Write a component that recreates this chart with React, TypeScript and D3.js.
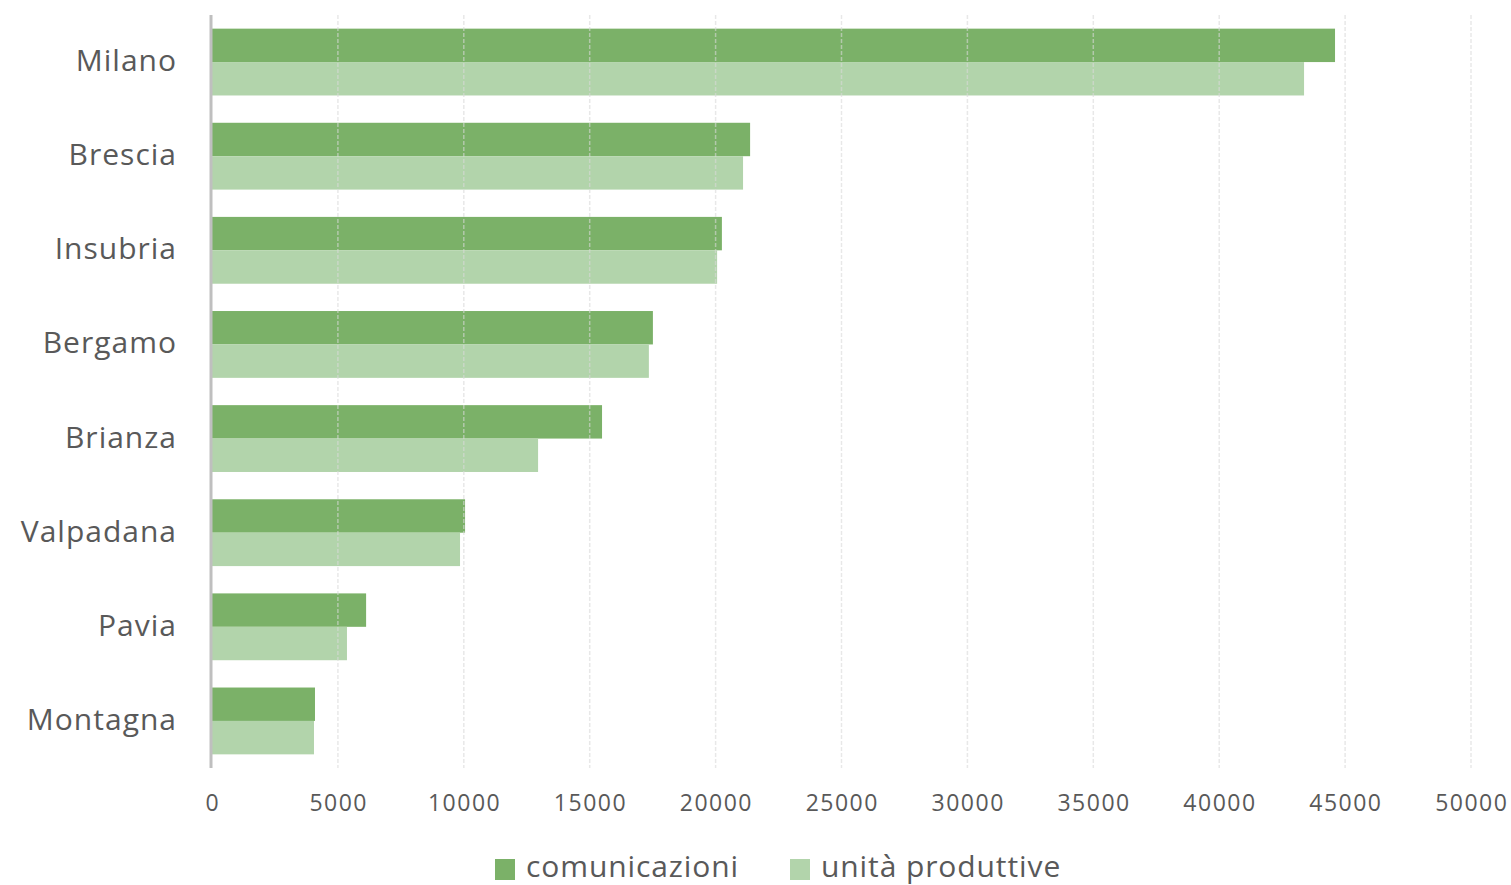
import React from "react";
import * as d3 from "d3";

const categories = ["Milano", "Brescia", "Insubria", "Bergamo", "Brianza", "Valpadana", "Pavia", "Montagna"];
const comunicazioni = [44600, 21370, 20250, 17510, 15490, 10050, 6120, 4090];
const unitaProduttive = [43370, 21090, 20060, 17350, 12950, 9850, 5360, 4050];
const seriesNames = ["comunicazioni", "unità produttive"];
const xTicks = [0, 5000, 10000, 15000, 20000, 25000, 30000, 35000, 40000, 45000, 50000];

const W = 1511;
const H = 885;
const colors = ["#7bb168", "#b2d4ab"];
const font = "'Open Sans', 'Noto Sans', sans-serif";

export default function App() {
  const x = d3.scaleLinear().domain([0, 50000]).range([212, 1471]);
  const y = d3.scaleBand<string>().domain(categories).range([15, 768]).paddingInner(0.29).paddingOuter(0.145);
  const sub = d3.scaleBand<string>().domain(seriesNames).range([0, y.bandwidth()]);
  const series = [comunicazioni, unitaProduttive];

  return (
    <svg width={W} height={H} style={{ position: "absolute", left: 0, top: 0, background: "#fff" }}>
      {categories.map((c, i) =>
        series.map((s, j) => (
          <rect
            key={c + j}
            x={x(0)}
            y={(y(c) ?? 0) + (sub(seriesNames[j]) ?? 0)}
            width={x(s[i]) - x(0)}
            height={sub.bandwidth()}
            fill={colors[j]}
          />
        ))
      )}
      {xTicks.slice(1).map((t) => (
        <line key={t} x1={x(t)} x2={x(t)} y1={15} y2={768} stroke="#d9d9d9" strokeOpacity={0.6} strokeWidth={1.5} strokeDasharray="4 2" />
      ))}
      <line x1={x(0) - 1} x2={x(0) - 1} y1={15} y2={768} stroke="#bfbfbf" strokeWidth={3} />
      {xTicks.map((t) => (
        <text key={"t" + t} x={x(t) + 0.8} y={811} textAnchor="middle" fontFamily={font} fontSize={23} letterSpacing={1.5} fill="#595959">
          {t}
        </text>
      ))}
      {categories.map((c) => (
        <text
          key={"l" + c}
          x={177}
          y={(y(c) ?? 0) + y.bandwidth() / 2}
          dy="0.3em"
          textAnchor="end"
          fontFamily={font}
          fontSize={30}
          letterSpacing={1}
          fill="#595959"
        >
          {c}
        </text>
      ))}
      {seriesNames.map((n, j) => {
        const lx = j === 0 ? 495 : 790;
        return (
          <g key={n}>
            <rect x={lx} y={859} width={20} height={21} fill={colors[j]} />
            <text x={lx + 31} y={877} fontFamily={font} fontSize={30} letterSpacing={0.9} fill="#595959">
              {n}
            </text>
          </g>
        );
      })}
    </svg>
  );
}
